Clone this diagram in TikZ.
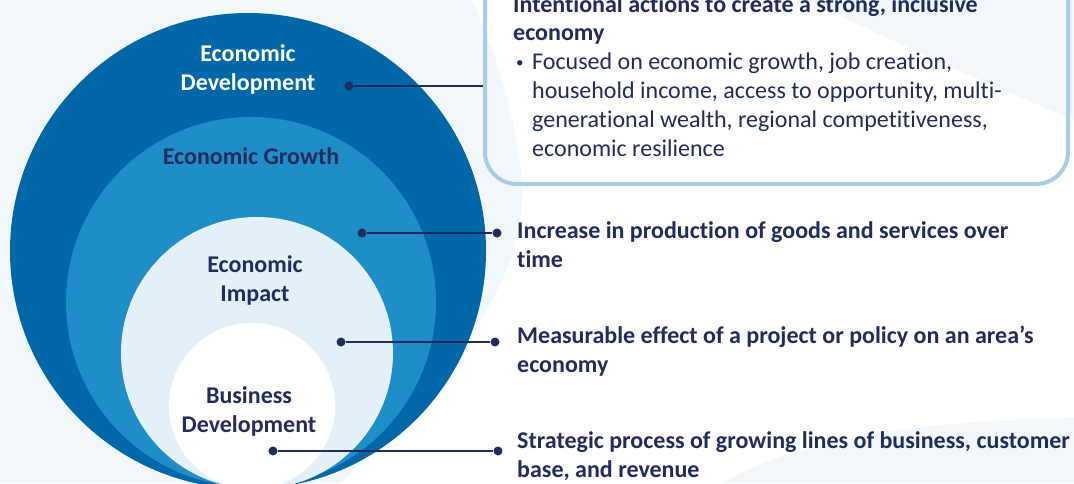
\documentclass[tikz,border=0pt]{standalone}
\usepackage{fontspec}
\setmainfont[Ligatures=NoCommon]{Carlito}
\definecolor{navy}{RGB}{33,44,94}
\definecolor{darkring}{RGB}{0,104,169}
\definecolor{midring}{RGB}{31,141,200}
\definecolor{palering}{RGB}{227,240,247}
\definecolor{bgblue}{RGB}{241,247,251}
\definecolor{boxline}{RGB}{168,205,227}
\newcommand{\smallbullet}{\raisebox{1.8pt}{\fontsize{15}{15}\selectfont•}}
\begin{document}
\begin{tikzpicture}[x=1pt,y=-1pt,
  ring/.style={circle, inner sep=0pt, draw=none},
  lbl/.style={font=\fontsize{24}{28.8}\selectfont\bfseries, align=center, inner sep=0pt, anchor=base},
  desc/.style={font=\fontsize{24}{28.8}\selectfont\bfseries, text=navy, align=left, anchor=base west, inner sep=0pt},
  dotn/.style={circle, fill=navy, inner sep=0pt, minimum size=9pt},
  link/.style={navy, line width=1.6pt}]
\useasboundingbox (0,0) rectangle (1074,483);
\clip (0,0) rectangle (1074,483);
% background
\fill[white] (0,0) rectangle (1074,483);
\fill[bgblue] (0,0) -- plot[smooth, tension=0.6] coordinates {(472,0) (498,67) (515,133) (522,190) (516,240) (500,285) (475,330) (445,380) (340,483)} -- (0,483) -- cycle;
\fill[bgblue] (808,0) .. controls (900,45) and (990,85) .. (1074,120) -- (1074,0) -- cycle;
\fill[bgblue] (722,483) .. controls (790,445) and (900,420) .. (1074,418) -- (1074,483) -- cycle;
% rings
\node[ring, fill=darkring, minimum size=476pt] (outer) at (248,251) {};
\node[ring, fill=midring, minimum size=370pt] (growth) at (251,302) {};
\node[ring, fill=palering, minimum size=272pt] (impact) at (257,353) {};
\node[ring, fill=white, minimum size=166pt] (business) at (252,406) {};
% ring labels (base = last line)
\node[lbl, text=white] (lDev) at (248,90) {Economic\\Development};
\node[lbl, text=navy] (lGrowth) at (251,164) {Economic Growth};
\node[lbl, text=navy] (lImpact) at (255,301) {Economic\\Impact};
\node[lbl, text=navy] (lBus) at (249,432) {Business\\Development};
% box
\node[draw=boxline, line width=4pt, rounded corners=32pt, minimum width=583pt, minimum height=224pt, inner sep=0pt] (box) at (776.5,72) {};
\node[anchor=base west, align=left, inner sep=0pt, text=navy, font=\fontsize{24}{28.8}\selectfont] (boxtext) at (513,156)
 {\textbf{Intentional actions to create a strong, inclusive}\\
  \textbf{economy}\\
  \hspace*{3pt}\makebox[16pt][l]{\smallbullet}Focused on economic growth, job creation,\\
  \hspace*{19pt}household income, access to opportunity, multi-\\
  \hspace*{19pt}generational wealth, regional competitiveness,\\
  \hspace*{19pt}economic resilience};
% descriptions (base = last line)
\node[desc] (tGrowth) at (517,267) {Increase in production of goods and services over\\time};
\node[desc] (tImpact) at (517,372) {Measurable effect of a project or policy on an area’s\\economy};
\node[desc] (tBus) at (517,477) {Strategic process of growing lines of business, customer\\base, and revenue};
% connectors
\node[dotn] (a1) at (349,86) {};
\draw[link] (a1) -- (a1 -| box.west);
\node[dotn] (a2) at (362,233) {};
\node[dotn] (b2) at (497,233) {};
\draw[link] (a2) -- (b2);
\node[dotn] (a3) at (341,342) {};
\node[dotn] (b3) at (495,342) {};
\draw[link] (a3) -- (b3);
\node[dotn] (a4) at (273,451) {};
\node[dotn] (b4) at (498,451) {};
\draw[link] (a4) -- (b4);
\end{tikzpicture}
\end{document}
